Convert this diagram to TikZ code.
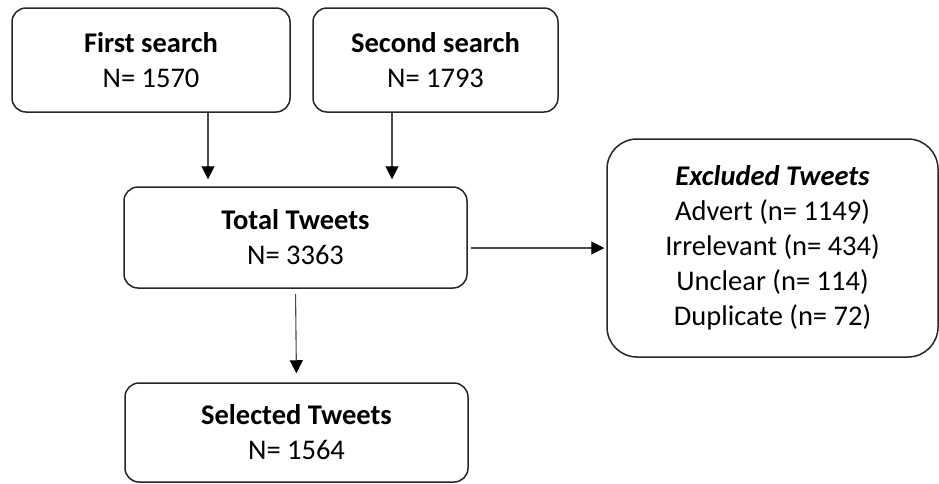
\documentclass[tikz,border=0pt]{standalone}
\usepackage{fontspec}
\setmainfont{Carlito}
\usetikzlibrary{arrows.meta}

\tikzset{
  stage/.style  ={draw=black!85, line width=1.5pt, rounded corners=14pt, align=center,
                  inner sep=0pt, font=\fontsize{28.5}{35}\selectfont},
  flow/.style   ={-{Triangle[length=13pt,width=13pt,color=black]}, draw=black!70, line width=1.1pt}
}

\begin{document}
\begin{tikzpicture}[x=1pt, y=-1pt]
    \useasboundingbox (0,0) rectangle (939,483);

    % the two searches
    \node[stage, minimum width=278pt, minimum height=104pt] (first) at (151,60)
      {\textbf{First search}\\N= 1570};
    \node[stage, minimum width=245pt, minimum height=104pt] (second) at (435.5,60)
      {\textbf{Second search}\\N= 1793};

    % pooled tweets
    \node[stage, minimum width=343pt, minimum height=101pt] (total) at (295.5,237.5)
      {\textbf{Total Tweets}\\N= 3363};

    % excluded ones
    \node[stage, rounded corners=30pt, minimum width=331pt, minimum height=218pt] (excluded) at (772.5,248)
      {\textbf{\textit{Excluded Tweets}}\\Advert (n= 1149)\\Irrelevant (n= 434)\\Unclear (n= 114)\\Duplicate (n= 72)};

    % final set
    \node[stage, minimum width=343pt, minimum height=99pt] (selected) at (296.5,432.5)
      {\textbf{Selected Tweets}\\N= 1564};

    % arrows
    \draw[flow, shorten >=7pt] ([xshift=57pt]first.south) -- ([xshift=57pt]first.south |- total.north);
    \draw[flow, shorten >=7pt] ([xshift=-43.5pt]second.south) -- ([xshift=-43.5pt]second.south |- total.north);
    \draw[flow, shorten <=5pt, shorten >=9pt] (total.south) -- (selected.north);
    \draw[flow, shorten <=3pt, shorten >=2pt] (total.east |- excluded.west) -- (excluded.west);
\end{tikzpicture}
\end{document}
